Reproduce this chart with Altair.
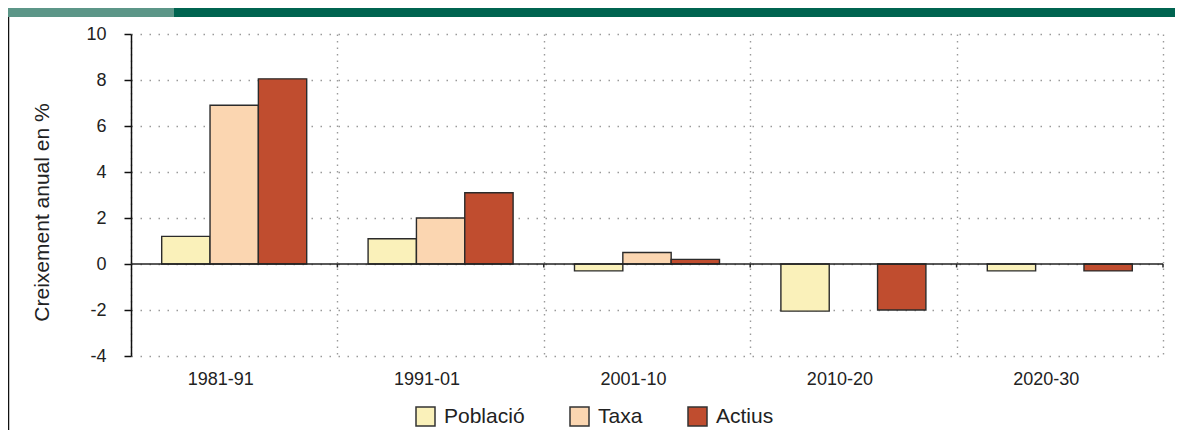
import altair as alt
import pandas as pd

periods = ["1981-91", "1991-01", "2001-10", "2010-20", "2020-30"]
series = ["Població", "Taxa", "Actius"]
poblacio = [1.2, 1.1, -0.3, -2.05, -0.3]
taxa = [6.9, 2.0, 0.5, None, None]
actius = [8.05, 3.1, 0.2, -2.0, -0.3]
colors = ["#FAF1BA", "#FBD6B1", "#C04D2F"]
y_ticks = [-4, -2, 0, 2, 4, 6, 8, 10]
y_title = "Creixement anual en %"

rows = []
for s, vals in zip(series, [poblacio, taxa, actius]):
    for p, v in zip(periods, vals):
        if v is not None:
            rows.append({"period": p, "serie": s, "value": v})
df = pd.DataFrame(rows)

W, H = 1032, 322
FONT = "Liberation Sans"

x_enc = alt.X(
    "period:N", sort=periods,
    scale=alt.Scale(paddingInner=0, paddingOuter=0),
    axis=alt.Axis(title=None, labelAngle=0, tickBand="extent", domain=False, ticks=False,
                  grid=True, gridDash=[1.5, 5], gridColor="#9a9a9a", gridWidth=1.4,
                  labelFontSize=18, labelPadding=14, labelColor="#222", labelFont=FONT,
                  labelOffset=-14),
)
y_enc = alt.Y(
    "value:Q",
    scale=alt.Scale(domain=[-4, 10], nice=False, zero=False),
    axis=alt.Axis(title=y_title, values=y_ticks, labelExpr="datum.value",
                  grid=True, gridDash=[1.5, 7.5],
                  gridColor="#9a9a9a", gridWidth=1.4, domainColor="#111", domainWidth=1.5,
                  tickColor="#111", tickWidth=1.5, tickSize=7, labelFontSize=18,
                  labelPadding=18, labelColor="#222", labelFont=FONT,
                  titleFont=FONT, titleFontSize=21, titleFontWeight="normal",
                  titleColor="#222", titlePadding=33, titleY=178),
)

bars = alt.Chart(df).mark_bar(stroke="#2b2b2b", strokeWidth=1.4, xOffset=-1.5).encode(
    x=x_enc,
    xOffset=alt.XOffset("serie:N", sort=series,
                        scale=alt.Scale(paddingOuter=0.635, paddingInner=0)),
    y=y_enc,
    color=alt.Color("serie:N", sort=series,
                    scale=alt.Scale(domain=series, range=colors),
                    legend=alt.Legend(title=None, orient="none", direction="horizontal",
                                      legendX=284, legendY=372, symbolType="square",
                                      symbolSize=361, symbolStrokeColor="#333",
                                      symbolStrokeWidth=1.5, symbolOpacity=1,
                                      labelFontSize=21, labelFont=FONT, labelColor="#222",
                                      labelOffset=8, columnPadding=42)),
)

one = pd.DataFrame({"k": [0]})
zero_line = alt.Chart(one).mark_rule(color="#222", strokeWidth=1.5).encode(
    y=alt.datum(0), x=alt.value(0), x2=alt.value(W)
)

bounds = pd.DataFrame({"period": periods})
band_ticks = alt.Chart(bounds).mark_rule(color="#222", strokeWidth=1.5).encode(
    x=alt.X("period:N", sort=periods, bandPosition=1),
    y=alt.datum(0), y2=alt.datum(-0.15)
)

header_left = alt.Chart(one).mark_rect(color="#5C9688").encode(
    x=alt.value(-123), x2=alt.value(43), y=alt.value(-26), y2=alt.value(-17)
)
header_right = alt.Chart(one).mark_rect(color="#006450").encode(
    x=alt.value(43), x2=alt.value(1060), y=alt.value(-26), y2=alt.value(-17)
)
left_line = alt.Chart(one).mark_rule(color="#111", strokeWidth=1.5).encode(
    x=alt.value(-122.5), y=alt.value(-17), y2=alt.value(420)
)

chart = alt.layer(bars, zero_line, band_ticks, header_left, header_right, left_line).properties(
    width=W, height=H,
    autosize=alt.AutoSizeParams(type="none"),
    padding={"left": 123, "top": 26, "right": 12, "bottom": 74},
).configure_view(stroke=None).configure_axis(zindex=0)

chart.save("out.html", embed_options={"renderer": "svg", "actions": False})
